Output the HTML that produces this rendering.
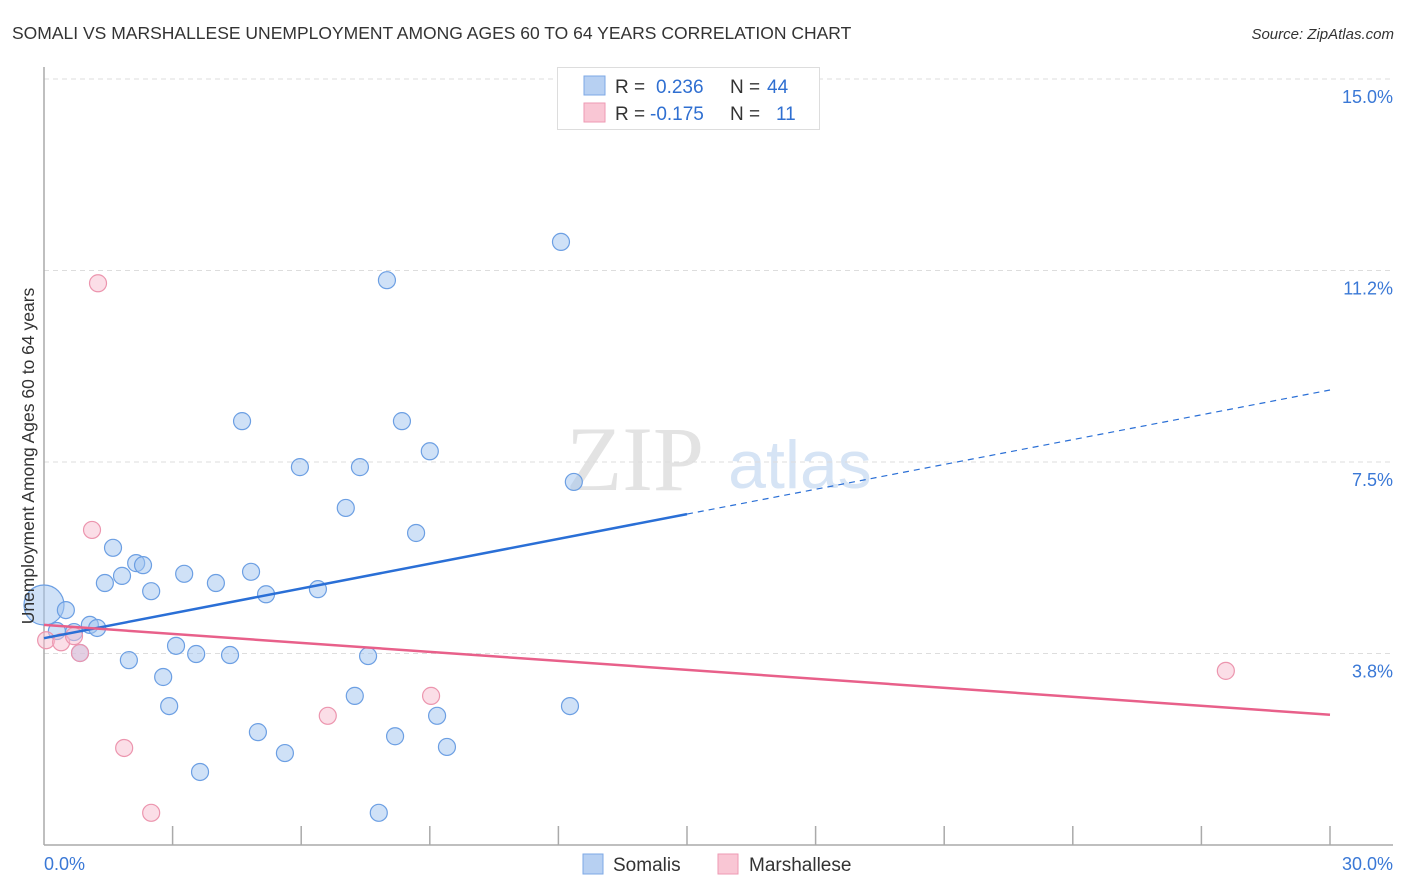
<!DOCTYPE html>
<html><head><meta charset="utf-8"><style>
body{margin:0;background:#fff;font-family:"Liberation Sans",sans-serif;}
svg{display:block}
</style></head><body>
<svg id="chart" width="1406" height="892" xmlns="http://www.w3.org/2000/svg">
<text x="12" y="39" font-size="17.5" fill="#333">SOMALI VS MARSHALLESE UNEMPLOYMENT AMONG AGES 60 TO 64 YEARS CORRELATION CHART</text>
<text x="1394" y="39" font-size="15" fill="#333" font-style="italic" text-anchor="end">Source: ZipAtlas.com</text>
<g>
<text x="635" y="490" font-size="92" fill="#e3e3e3" font-family="Liberation Serif,serif" text-anchor="middle">ZIP</text>
<text x="800" y="488" font-size="68" fill="#d6e4f5" text-anchor="middle">atlas</text>
</g>
<g id="grid"></g>
<g id="axes"></g>
<g id="points"></g>
<g id="lines"></g>
<text transform="translate(34,456) rotate(-90)" font-size="17.5" fill="#333" text-anchor="middle">Unemployment Among Ages 60 to 64 years</text>
<g>
<rect x="557.5" y="67.5" width="262" height="62" fill="#fff" stroke="#ddd"/>
<rect x="584" y="76" width="21" height="19" fill="#b7d0f2" stroke="#7ea8e6"/>
<rect x="584" y="103" width="21" height="19" fill="#f9c6d4" stroke="#ee9ab3"/>
<text x="615" y="93" font-size="19" fill="#333">R = <tspan fill="#2f6fd1" x="656">0.236</tspan><tspan fill="#333" x="730">N = </tspan><tspan fill="#2f6fd1" x="767">44</tspan></text>
<text x="615" y="120" font-size="19" fill="#333">R = <tspan fill="#2f6fd1" x="650">-0.175</tspan><tspan fill="#333" x="730">N = </tspan><tspan fill="#2f6fd1" x="776">11</tspan></text>
</g>
<g>
<rect x="583" y="854" width="20" height="20" fill="#b7d0f2" stroke="#7ea8e6"/>
<text x="613" y="871" font-size="19" fill="#333">Somalis</text>
<rect x="718" y="854" width="20" height="20" fill="#f9c6d4" stroke="#ee9ab3"/>
<text x="749" y="871" font-size="19" fill="#333">Marshallese</text>
</g>
</svg>
<script>
const somaliX=[0.00,0.51,0.30,0.70,1.07,1.24,0.84,1.61,1.42,1.82,2.15,2.31,2.50,1.98,2.78,2.92,3.08,3.27,3.55,3.64,4.01,4.34,4.62,4.83,4.99,5.18,5.62,5.97,6.39,7.04,7.25,7.37,7.56,7.81,8.00,8.19,8.35,8.68,9.00,9.17,9.40,12.06,12.27,12.36];
const somaliY=[4.70,4.60,4.19,4.17,4.31,4.25,3.76,5.82,5.13,5.27,5.52,5.48,4.97,3.62,3.29,2.72,3.90,5.31,3.74,1.43,5.13,3.72,8.30,5.35,2.21,4.91,1.80,7.40,5.01,6.60,2.92,7.40,3.70,0.63,11.06,2.13,8.30,6.11,7.71,2.53,1.92,11.81,2.72,7.11];
const marshX=[0.05,0.40,0.70,0.84,1.12,1.26,1.87,2.50,6.62,9.03,27.57];
const marshY=[4.01,3.97,4.09,3.76,6.17,11.00,1.90,0.63,2.53,2.92,3.41];
const somaliTrend=[4.05,8.91];
const marshTrend=[4.31,2.55];
const yTicks=[3.75,7.5,11.25,15];
const yTickLabels=["3.8%","7.5%","11.2%","15.0%"];
const xTicks=[0,3,6,9,12,15,18,21,24,27,30];
const NS="http://www.w3.org/2000/svg";
const X=v=>44+v*(1286/30);
const Y=v=>845-v*(766/15);
function mk(tag,attrs,parent){const e=document.createElementNS(NS,tag);for(const k in attrs)e.setAttribute(k,attrs[k]);parent.appendChild(e);return e;}
const grid=document.getElementById('grid'),axes=document.getElementById('axes'),pts=document.getElementById('points'),lines=document.getElementById('lines');
yTicks.forEach((t,i)=>{
 const l=mk('line',{x1:44,x2:1393,y1:Y(t),y2:Y(t),stroke:'#ddd','stroke-dasharray':'5,4'},grid);
 
 
 const tx=mk('text',{x:1393,y:Y(t)+24,'font-size':18,fill:'#3a78d6','text-anchor':'end'},axes);
 tx.textContent=yTickLabels[i];
 
 
});
const ya=mk('line',{x1:44,x2:44,y1:67,y2:845,stroke:'#aaa','stroke-width':1.5},axes);


const xa=mk('line',{x1:44,x2:1393,y1:845,y2:845,stroke:'#aaa','stroke-width':1.5},axes);


xTicks.slice(1).forEach(t=>{
 const l=mk('line',{x1:X(t),x2:X(t),y1:826,y2:845,stroke:'#aaa','stroke-width':1.5},axes);
 
 
});
const xl0=mk('text',{x:44,y:870,'font-size':18,fill:'#3a78d6'},axes);xl0.textContent="0.0%";


const xl1=mk('text',{x:1393,y:870,'font-size':18,fill:'#3a78d6','text-anchor':'end'},axes);xl1.textContent="30.0%";


somaliX.forEach((x,i)=>{
 const c=mk('circle',{cx:X(x),cy:Y(somaliY[i]),r:i===0?20:8.5,fill:'rgba(160,196,240,0.5)',stroke:'#6c9fe3','stroke-width':1.2},pts);
 
 
});
marshX.forEach((x,i)=>{
 const c=mk('circle',{cx:X(x),cy:Y(marshY[i]),r:8.5,fill:'rgba(248,190,208,0.5)',stroke:'#ec95ae','stroke-width':1.2},pts);
 
 
});
const bAt=v=>somaliTrend[0]+(somaliTrend[1]-somaliTrend[0])*v/30;
const b1=mk('line',{x1:X(0),y1:Y(bAt(0)),x2:X(15),y2:Y(bAt(15)),stroke:'#2a6fd6','stroke-width':2.5},lines);


const b2=mk('line',{x1:X(15),y1:Y(bAt(15)),x2:X(30),y2:Y(bAt(30)),stroke:'#2a6fd6','stroke-width':1.2,'stroke-dasharray':'6,5'},lines);


const p1=mk('line',{x1:X(0),y1:Y(marshTrend[0]),x2:X(30),y2:Y(marshTrend[1]),stroke:'#e8608a','stroke-width':2.5},lines);


</script>
</body></html>
